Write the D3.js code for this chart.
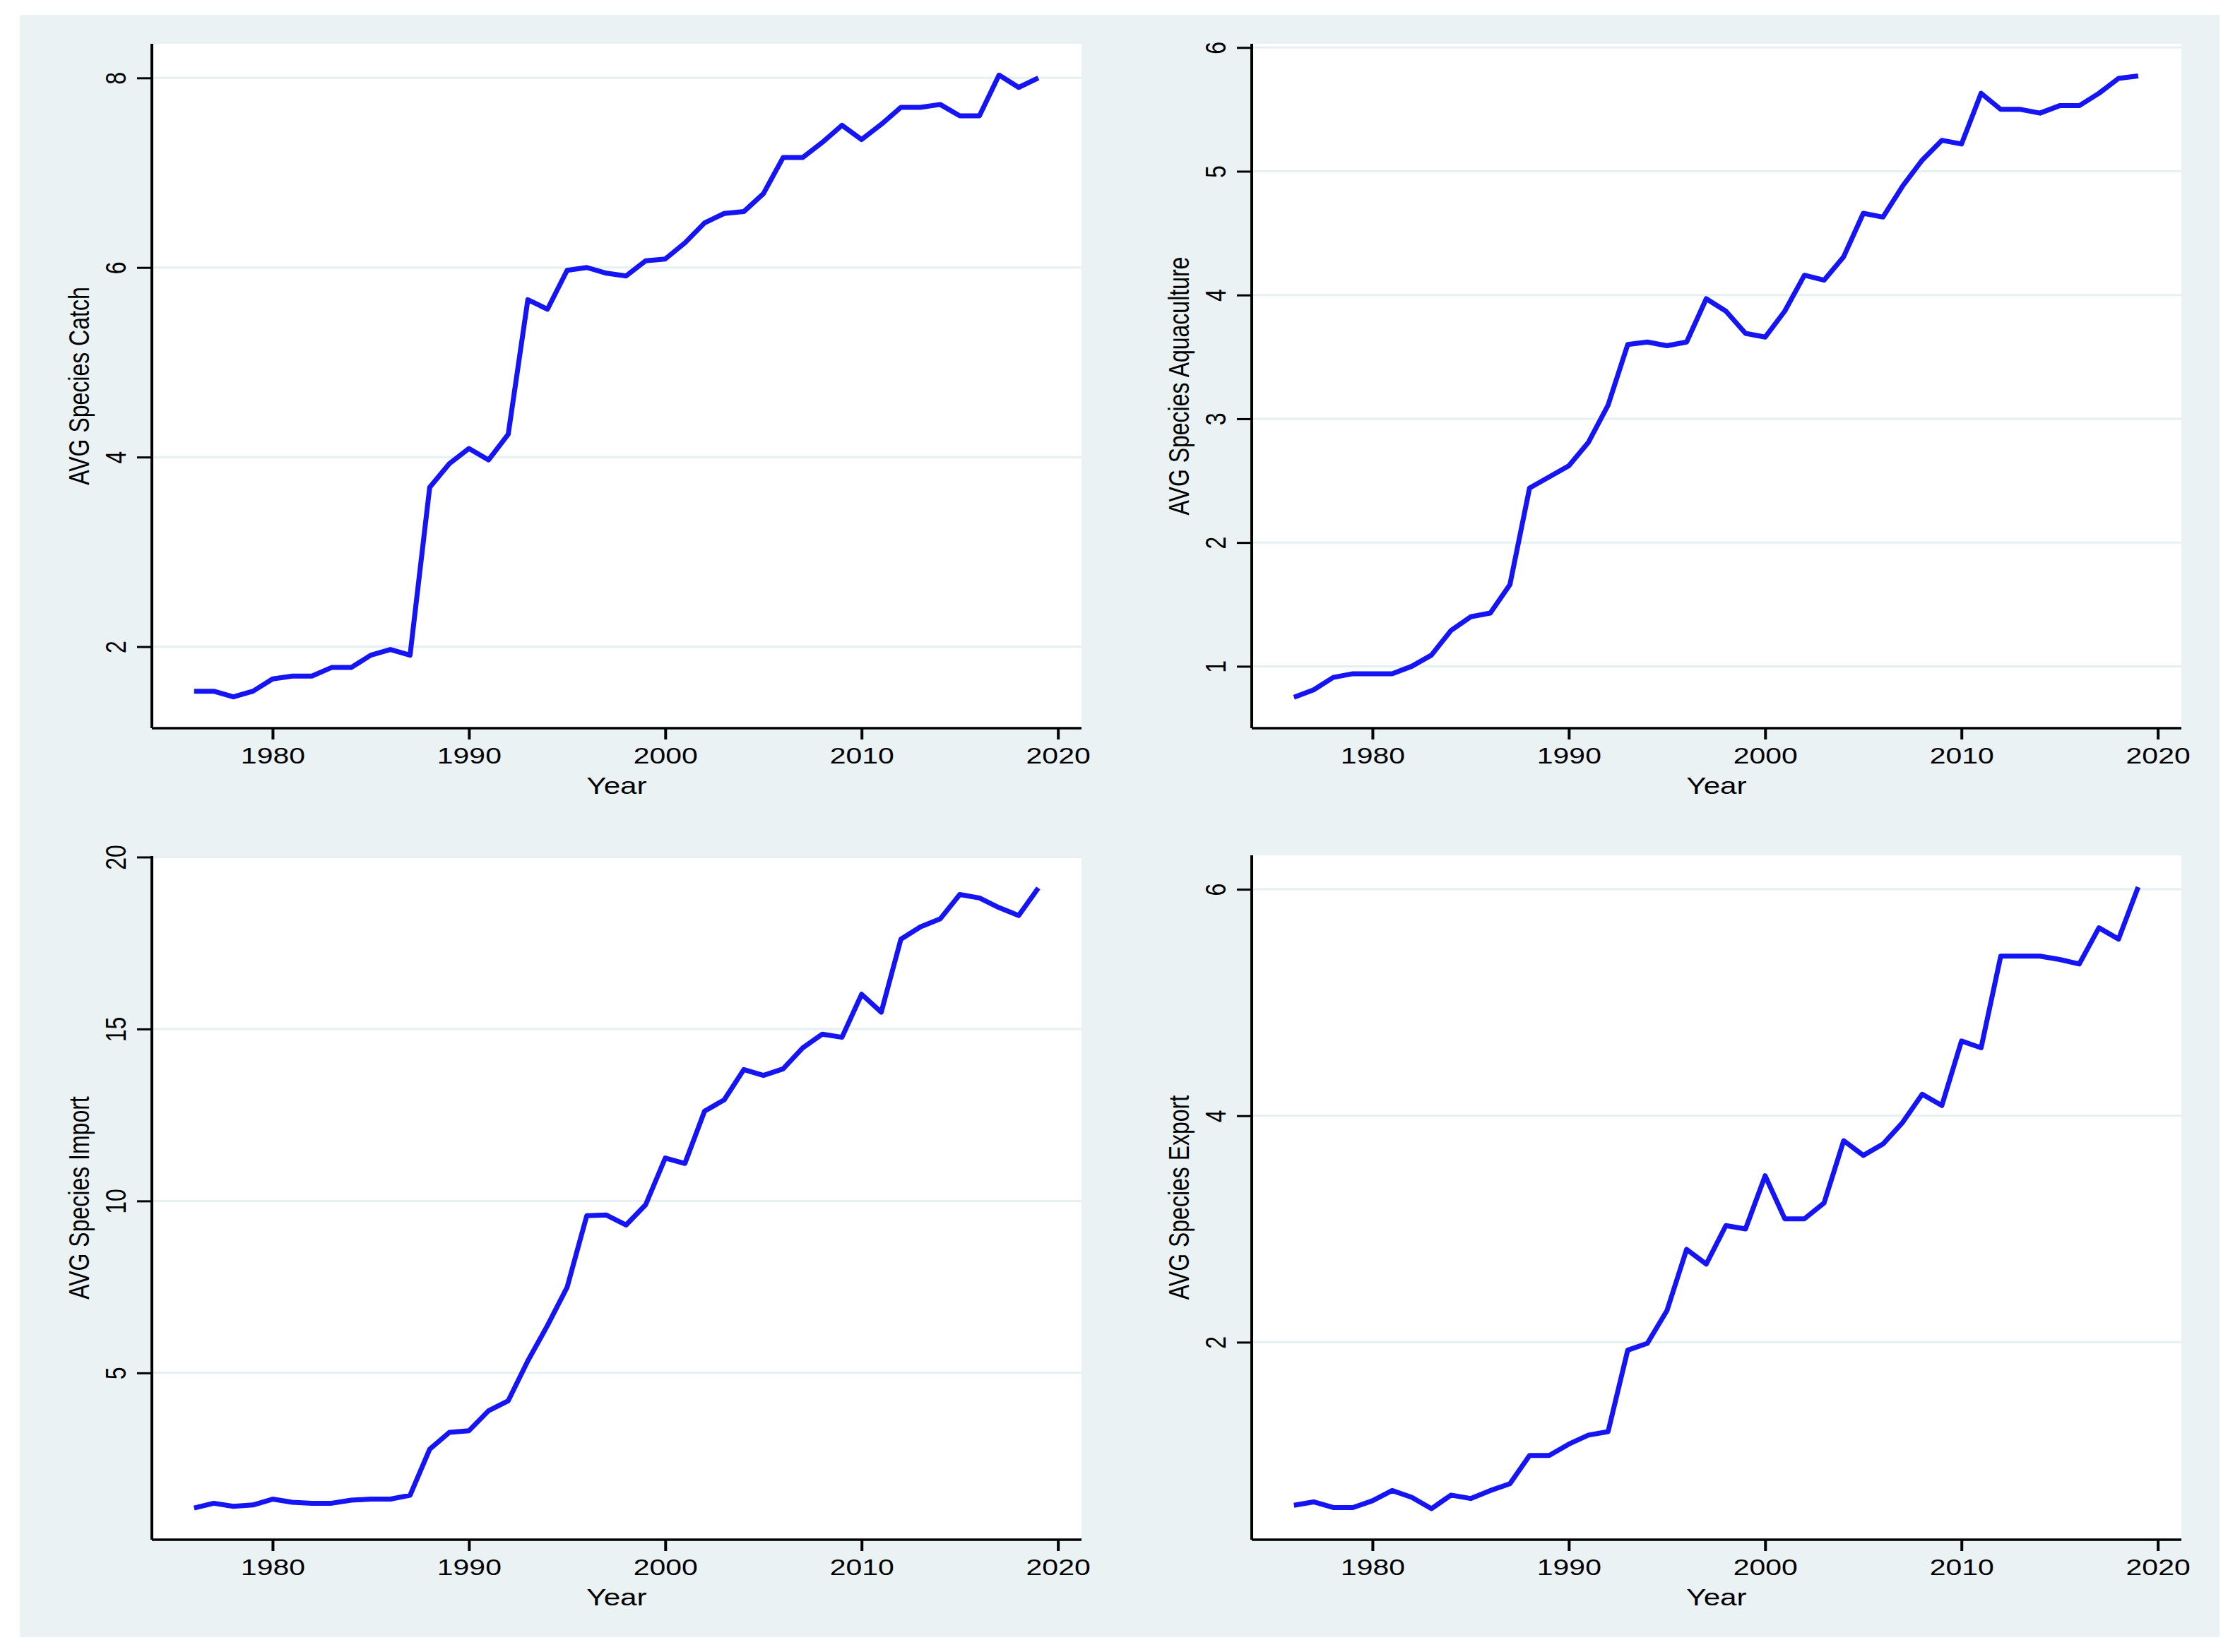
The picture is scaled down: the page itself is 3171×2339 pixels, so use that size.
<!DOCTYPE html>
<html>
<head>
<meta charset="utf-8">
<script src="https://cdn.jsdelivr.net/npm/d3@7"></script>
<style>
  body { margin: 0; background: #ffffff; }
  svg { display: block; }
  text { font-family: "Liberation Sans", Arial, sans-serif; fill: #000; }
</style>
</head>
<body>
<div id="chart"></div>
<script>
// years on the x axis
var years = d3.range(1976, 2020);

// average number of species
var catchAvg = [1.53, 1.53, 1.47, 1.53, 1.66, 1.69, 1.69, 1.78, 1.78, 1.91,
  1.97, 1.91, 3.68, 3.93, 4.09, 3.97, 4.24, 5.66, 5.56, 5.97,
  6.00, 5.94, 5.91, 6.07, 6.09, 6.26, 6.47, 6.57, 6.59, 6.78,
  7.16, 7.16, 7.32, 7.50, 7.35, 7.51, 7.69, 7.69, 7.72, 7.60,
  7.60, 8.03, 7.90, 8.00];

var aquaAvg = [0.75, 0.81, 0.91, 0.94, 0.94, 0.94, 1.00, 1.09, 1.29, 1.40,
  1.43, 1.66, 2.44, 2.53, 2.62, 2.81, 3.11, 3.60, 3.62, 3.59,
  3.62, 3.97, 3.87, 3.69, 3.66, 3.87, 4.16, 4.12, 4.31, 4.66,
  4.63, 4.88, 5.09, 5.25, 5.22, 5.63, 5.50, 5.50, 5.47, 5.53,
  5.53, 5.63, 5.75, 5.77];

var importAvg = [1.07, 1.21, 1.12, 1.16, 1.33, 1.24, 1.21, 1.21, 1.30, 1.33,
  1.33, 1.44, 2.78, 3.27, 3.32, 3.90, 4.19, 5.35, 6.38, 7.49,
  9.57, 9.59, 9.30, 9.89, 11.25, 11.09, 12.61, 12.94, 13.82, 13.65,
  13.84, 14.45, 14.85, 14.76, 16.01, 15.49, 17.61, 17.97, 18.20, 18.91,
  18.81, 18.53, 18.30, 19.10];

var exportAvg = [0.56, 0.59, 0.54, 0.54, 0.60, 0.69, 0.63, 0.53, 0.65, 0.62,
  0.69, 0.75, 1.00, 1.00, 1.10, 1.18, 1.21, 1.93, 1.99, 2.28,
  2.82, 2.69, 3.03, 3.00, 3.47, 3.09, 3.09, 3.23, 3.78, 3.65,
  3.75, 3.94, 4.19, 4.09, 4.66, 4.60, 5.41, 5.41, 5.41, 5.38,
  5.34, 5.66, 5.56, 6.02];

// tick labels
var xTicks = [1980, 1990, 2000, 2010, 2020];
var catchTicks = [2, 4, 6, 8];
var aquaTicks = [1, 2, 3, 4, 5, 6];
var importTicks = [5, 10, 15, 20];
var exportTicks = [2, 4, 6];

var width = 3171, height = 2339;
var stretch = 1.28;   // the picture is a bit wider than tall, text too

var svg = d3.select("#chart").append("svg")
  .attr("width", width)
  .attr("height", height);

svg.append("rect")
  .attr("x", 28).attr("y", 21)
  .attr("width", 3142 - 28).attr("height", 2318 - 21)
  .attr("fill", "#eaf2f3");

var panels = [
  {values: catchAvg, ticks: catchTicks, domain: [1.14, 8.36], title: "AVG Species Catch",
   x0: 215, x1: 1531, y0: 62, y1: 1031},
  {values: aquaAvg, ticks: aquaTicks, domain: [0.5, 6.03], title: "AVG Species Aquaculture",
   x0: 1772, x1: 3088, y0: 62, y1: 1031},
  {values: importAvg, ticks: importTicks, domain: [0.15, 20.03], title: "AVG Species Import",
   x0: 215, x1: 1531, y0: 1212, y1: 2180},
  {values: exportAvg, ticks: exportTicks, domain: [0.256, 6.3], title: "AVG Species Export",
   x0: 1772, x1: 3088, y0: 1211, y1: 2180}
];

panels.forEach(function(p){
  var x = d3.scaleLinear().domain([1973.85, 2021.2]).range([p.x0, p.x1]);
  var y = d3.scaleLinear().domain(p.domain).range([p.y1, p.y0]);

  var g = svg.append("g");

  g.append("rect")
    .attr("x", p.x0).attr("y", p.y0)
    .attr("width", p.x1 - p.x0).attr("height", p.y1 - p.y0)
    .attr("fill", "#ffffff");

  // grid
  g.selectAll("line.grid")
    .data(p.ticks)
    .enter().append("line")
    .attr("class", "grid")
    .attr("x1", p.x0).attr("x2", p.x1)
    .attr("y1", function(d){ return y(d); })
    .attr("y2", function(d){ return y(d); })
    .attr("stroke", "#e6eff1")
    .attr("stroke-width", 3);

  // series
  var line = d3.line()
    .x(function(d, i){ return x(years[i]); })
    .y(function(d){ return y(d); });

  g.append("path")
    .datum(p.values)
    .attr("d", line)
    .attr("fill", "none")
    .attr("stroke", "#1414f5")
    .attr("stroke-width", 7)
    .attr("stroke-linejoin", "round");

  // x axis
  var xa = g.append("g")
    .attr("transform", "translate(0," + p.y1 + ")")
    .call(d3.axisBottom(x).tickValues(xTicks).tickFormat(d3.format("d")).tickSizeInner(16).tickSizeOuter(0));
  xa.select(".domain").attr("stroke", "#000").attr("stroke-width", 3.5)
    .attr("d", "M" + p.x0 + ",0H" + p.x1);
  xa.selectAll(".tick line").attr("stroke", "#000").attr("stroke-width", 4);
  xa.selectAll(".tick text")
    .attr("y", 50).attr("dy", 0)
    .attr("font-size", 32)
    .attr("font-family", null)
    .attr("transform", "scale(" + stretch + ",1)");

  // y axis
  var ya = g.append("g")
    .attr("transform", "translate(" + p.x0 + ",0)")
    .call(d3.axisLeft(y).tickValues(p.ticks).tickFormat(d3.format("d")).tickSizeInner(21).tickSizeOuter(0));
  ya.select(".domain").attr("stroke", "#000").attr("stroke-width", 4)
    .attr("d", "M0," + p.y0 + "V" + p.y1);
  ya.selectAll(".tick line").attr("stroke", "#000").attr("stroke-width", 3);
  ya.selectAll(".tick text")
    .attr("x", 0).attr("y", -37 / stretch).attr("dy", 0)
    .attr("text-anchor", "middle")
    .attr("font-size", 32)
    .attr("font-family", null)
    .attr("transform", "scale(" + stretch + ",1) rotate(-90)");

  // titles
  g.append("text")
    .attr("transform", "translate(" + ((p.x0 + p.x1) / 2) + "," + (p.y1 + 93) + ") scale(" + stretch + ",1)")
    .attr("text-anchor", "middle")
    .attr("font-size", 33)
    .text("Year");

  g.append("text")
    .attr("transform", "translate(" + (p.x0 - 89) + "," + ((p.y0 + p.y1) / 2) + ") scale(" + stretch + ",1) rotate(-90)")
    .attr("text-anchor", "middle")
    .attr("font-size", 32)
    .text(p.title);
});
</script>
</body>
</html>
